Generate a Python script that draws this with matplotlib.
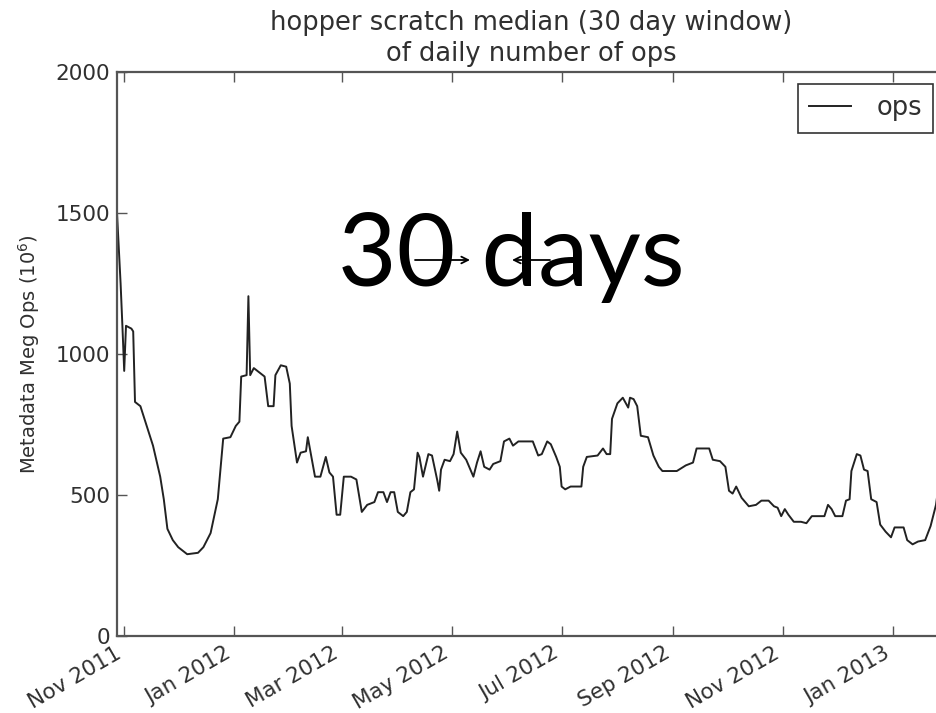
import numpy as np
import pandas as pd
import matplotlib
matplotlib.use("Agg")
import matplotlib.pyplot as plt
import matplotlib.dates as mdates

# 30-day rolling median of daily ops
# (days counted from 2011-11-01, values in 10^6 ops)
days = [-4, -2, -1, 0, 1, 4, 5, 6, 9, 13, 16, 20, 22, 24, 27, 30, 35, 41, 44, 48,
        52, 55, 59, 62, 64, 65, 68, 69, 70, 72, 78, 80, 83, 84, 87, 90, 92, 93, 96,
        98, 101, 102, 104, 106, 109, 112, 114, 116, 118, 120, 122, 126, 129, 132,
        135, 139, 141, 144, 146, 148, 150, 152, 155, 157, 159, 161, 163, 164, 166,
        169, 171, 174, 175, 176, 178, 181, 183, 185, 187, 190, 194, 196, 198, 200,
        203, 205, 209, 211, 214, 216, 219, 225, 227, 230, 232, 235, 237, 240, 242,
        243, 245, 248, 251, 254, 255, 257, 263, 266, 268, 270, 271, 274, 277, 280,
        281, 283, 285, 287, 291, 294, 297, 299, 307, 312, 316, 318, 325, 327, 331,
        334, 336, 338, 340, 343, 347, 351, 354, 358, 361, 363, 365, 367, 369, 372,
        376, 379, 382, 389, 391, 393, 395, 399, 401, 403, 404, 407, 409, 411, 413,
        415, 418, 420, 423, 426, 428, 433, 435, 438, 441, 445, 448, 451, 453, 456]
ops = [1500, 1250, 1100, 940, 1100, 1090, 1080, 830, 815, 735, 675, 565, 485, 380,
       340, 315, 290, 295, 315, 365, 485, 700, 705, 745, 760, 920, 925, 1205, 925,
       950, 920, 815, 815, 925, 960, 955, 895, 745, 615, 650, 655, 705, 635, 565,
       565, 635, 580, 565, 430, 430, 565, 565, 555, 440, 465, 475, 510, 510, 475,
       510, 510, 440, 425, 440, 510, 520, 650, 635, 565, 645, 640, 550, 515, 590,
       625, 620, 645, 725, 650, 625, 565, 615, 655, 600, 590, 610, 620, 690, 700,
       675, 690, 690, 690, 640, 645, 690, 680, 635, 600, 530, 520, 530, 530, 530,
       600, 635, 640, 665, 645, 645, 770, 825, 845, 810, 845, 840, 815, 710, 705,
       640, 600, 585, 585, 605, 615, 665, 665, 625, 620, 600, 515, 505, 530, 490,
       460, 465, 480, 480, 460, 455, 425, 450, 430, 405, 405, 400, 425, 425, 465,
       450, 425, 425, 480, 485, 585, 645, 640, 590, 585, 485, 475, 395, 370, 350,
       385, 385, 340, 325, 335, 340, 390, 465, 560, 610]

dates = pd.Timestamp("2011-11-01") + pd.to_timedelta(days, unit="D")

title = "hopper scratch median (30 day window)\nof daily number of ops"
ylabel = r"Metadata Meg Ops $(10^6)$"
yticks = [0, 500, 1000, 1500, 2000]

txt = "#303030"

fig = plt.figure(figsize=(9.37, 7.13), dpi=100)
# the right edge of the axes runs just past the picture, as in the source
ax = fig.add_axes([117 / 937, 1 - 636 / 713, 828 / 937, 564 / 713])

ax.plot(dates, ops, color="#222222", lw=1.4, label="ops")

ax.set_xlim(dates[0], dates[-1])
ax.set_ylim(0, 2000)
ax.set_yticks(yticks)
ax.xaxis.set_major_locator(mdates.MonthLocator(bymonth=[1, 3, 5, 7, 9, 11]))
ax.xaxis.set_major_formatter(mdates.DateFormatter("%b %Y"))

ax.tick_params(direction="in", length=7, width=1, color="#555555",
               top=True, right=False, labelsize=15.5, labelcolor=txt, pad=5)
for lab in ax.get_xticklabels():
    lab.set_rotation(30)
    lab.set_ha("right")
for s in ax.spines.values():
    s.set_color("#555555")
    s.set_linewidth(1.6)

ax.set_title(title, fontsize=18.5, color=txt, pad=8, linespacing=1.25)
ax.set_ylabel(ylabel, fontsize=14, color=txt, labelpad=10)

leg = ax.legend(loc="upper right", fontsize=18.5, fancybox=False, framealpha=1,
                handlelength=1.6, handletextpad=1.0, borderpad=0.45,
                borderaxespad=0.45)
leg.get_frame().set_edgecolor("#333333")
leg.get_frame().set_linewidth(1.2)
for t in leg.get_texts():
    t.set_color(txt)

# slide overlay: "30 days" with arrows
fig.text(511 / 937, 1 - 286 / 713, "30 days", family=["Lato", "DejaVu Sans"],
         fontsize=73, color="black", ha="center", va="baseline")
ax.annotate("", xy=(470 / 937, 1 - 260 / 713), xytext=(415 / 937, 1 - 260 / 713),
            xycoords="figure fraction", textcoords="figure fraction",
            arrowprops=dict(arrowstyle="->", lw=1.3, color="black",
                            shrinkA=0, shrinkB=0, mutation_scale=12))
ax.annotate("", xy=(512 / 937, 1 - 260 / 713), xytext=(550 / 937, 1 - 260 / 713),
            xycoords="figure fraction", textcoords="figure fraction",
            arrowprops=dict(arrowstyle="->", lw=1.3, color="black",
                            shrinkA=0, shrinkB=0, mutation_scale=12))

fig.savefig("out.png", dpi=100)
